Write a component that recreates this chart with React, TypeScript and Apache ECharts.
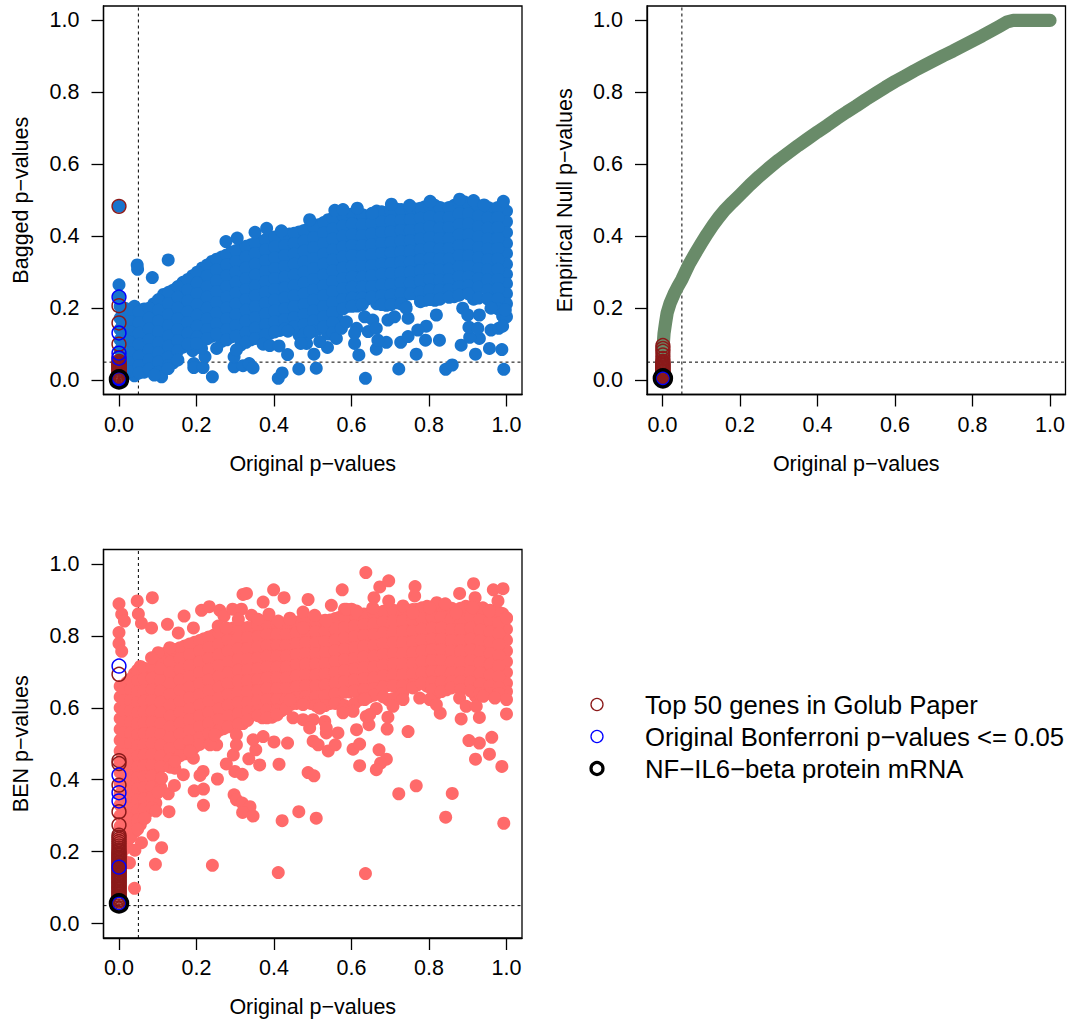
import React, { useEffect, useRef } from "react";
import * as echarts from "echarts";

const tickValues = [0, 0.2, 0.4, 0.6, 0.8, 1.0];
const xTitle = "Original p\u2212values";
const yTitles = ["Bagged p\u2212values", "Empirical Null p\u2212values", "BEN p\u2212values"];
const legendLabels = ["Top 50 genes in Golub Paper", "Original Bonferroni p\u2212values <= 0.05", "NF\u2212IL6\u2212beta protein mRNA"];
const cutoff = [0.05];

// Dense cloud, read column by column: [x, y values], in thousandths
const baggedCloud: [number, number[]][] = [
  [3, [205, 172, 141, 112, 83, 55, 28]],
  [15, [200, 186, 157, 126, 98, 70, 42, 18]],
  [40, [205, 178, 150, 118, 92, 60, 35, 12]],
  [65, [198, 165, 138, 108, 78, 50, 22]],
  [90, [212, 182, 152, 121, 95, 64, 40]],
  [115, [238, 205, 176, 146, 115, 88, 58, 30]],
  [140, [250, 222, 190, 160, 132, 100, 70, 48]],
  [165, [272, 240, 212, 180, 150, 120, 92]],
  [190, [290, 262, 230, 200, 170, 140, 110, 82]],
  [215, [312, 280, 250, 221, 190, 160, 130, 108]],
  [240, [330, 300, 272, 240, 210, 182, 150, 122]],
  [265, [342, 315, 285, 255, 225, 195, 165, 135, 108]],
  [290, [356, 326, 298, 268, 238, 208, 178, 148, 120]],
  [315, [366, 336, 306, 278, 248, 218, 188, 158, 125, 98]],
  [340, [376, 348, 318, 288, 258, 230, 200, 170, 140, 112]],
  [365, [386, 356, 328, 298, 268, 238, 210, 180, 150, 122]],
  [390, [396, 368, 338, 308, 280, 250, 220, 190, 160, 130]],
  [415, [402, 372, 344, 314, 284, 254, 226, 196, 166, 138]],
  [440, [406, 378, 348, 320, 290, 260, 232, 202, 172, 148]],
  [465, [412, 382, 354, 324, 296, 266, 236, 206, 178, 150, 125]],
  [490, [422, 392, 364, 334, 304, 276, 246, 216, 188, 158, 130]],
  [515, [432, 402, 374, 344, 316, 286, 256, 228, 198, 170, 142]],
  [540, [446, 416, 388, 358, 328, 300, 270, 240, 212, 184, 155, 128]],
  [565, [456, 426, 398, 368, 340, 310, 280, 252, 222, 195, 168]],
  [590, [460, 432, 402, 372, 344, 314, 284, 256, 226, 205]],
  [615, [466, 436, 408, 378, 350, 320, 290, 262, 232, 206]],
  [640, [456, 430, 400, 370, 342, 312, 284, 254, 225]],
  [665, [470, 442, 412, 384, 354, 324, 296, 266, 238, 212]],
  [690, [466, 438, 408, 378, 350, 320, 290, 262, 232, 208]],
  [715, [476, 446, 418, 388, 358, 330, 300, 272, 242, 215]],
  [740, [472, 444, 414, 386, 356, 326, 298, 268, 240, 205]],
  [765, [476, 448, 418, 390, 360, 332, 302, 274, 240]],
  [790, [482, 452, 424, 394, 366, 336, 306, 278, 248, 222]],
  [815, [486, 456, 428, 398, 370, 340, 310, 282, 252, 222]],
  [840, [476, 448, 418, 390, 360, 332, 302, 274, 248]],
  [865, [486, 458, 428, 400, 370, 340, 312, 284, 256, 232]],
  [890, [496, 466, 438, 408, 380, 350, 320, 292, 264]],
  [915, [486, 458, 430, 400, 370, 342, 312, 284, 258, 225]],
  [940, [482, 452, 424, 394, 366, 338, 308, 280]],
  [965, [476, 448, 420, 390, 362, 332, 304, 278, 250, 222]],
  [990, [486, 456, 428, 398, 370, 340, 312, 284, 258, 230, 200, 178]],
  [1000, [470, 440, 410, 380, 352, 322, 294, 268, 240, 212]],
];

const baggedCloudMid: [number, number[]][] = [
  [9, [190, 160, 130, 100, 70, 42]],
  [28, [192, 163, 134, 105, 76, 48, 24]],
  [52, [190, 160, 130, 100, 66, 40, 20]],
  [78, [200, 172, 142, 112, 84, 56, 30]],
  [102, [224, 194, 164, 134, 104, 76, 50, 22]],
  [128, [244, 212, 182, 152, 122, 94, 64, 40]],
  [152, [260, 230, 200, 170, 140, 110, 82, 56]],
  [178, [280, 250, 220, 190, 160, 130, 100]],
  [202, [300, 270, 240, 210, 180, 150, 120, 95]],
  [228, [320, 290, 260, 230, 200, 170, 140, 115]],
  [252, [336, 306, 276, 246, 216, 186, 156, 128]],
  [278, [348, 320, 290, 260, 230, 200, 170, 140, 112]],
  [302, [360, 330, 300, 272, 242, 212, 182, 152, 122]],
  [328, [372, 342, 312, 282, 252, 224, 194, 164, 132, 105]],
  [352, [380, 352, 322, 292, 262, 234, 204, 174, 144, 116]],
  [378, [390, 362, 332, 302, 274, 244, 214, 184, 154, 126]],
  [402, [398, 370, 340, 310, 282, 252, 222, 192, 162, 134]],
  [428, [404, 374, 346, 316, 286, 256, 228, 198, 168, 142]],
  [452, [408, 380, 350, 322, 292, 262, 234, 204, 174, 148]],
  [478, [416, 386, 358, 328, 300, 270, 240, 210, 182, 154, 128]],
  [502, [426, 396, 368, 338, 310, 280, 250, 222, 192, 164, 136]],
  [528, [438, 408, 380, 350, 322, 292, 262, 234, 204, 176, 148]],
  [552, [450, 420, 392, 362, 334, 304, 274, 246, 216, 188, 160, 132]],
  [578, [458, 428, 400, 370, 342, 312, 282, 254, 224, 198]],
  [602, [462, 434, 404, 374, 346, 316, 286, 258, 228, 205]],
  [628, [460, 432, 402, 374, 344, 316, 286, 258, 228, 210]],
  [652, [462, 436, 406, 376, 348, 318, 290, 260, 230]],
  [678, [468, 440, 410, 380, 352, 322, 294, 264, 234, 210]],
  [702, [470, 442, 412, 382, 354, 324, 296, 266, 236, 210]],
  [728, [474, 444, 416, 386, 356, 328, 298, 270, 240, 212]],
  [752, [474, 446, 416, 388, 358, 328, 300, 270, 240]],
  [778, [478, 450, 420, 392, 362, 334, 304, 276, 244, 218]],
  [802, [484, 454, 426, 396, 368, 338, 308, 280, 250, 224]],
  [828, [480, 452, 422, 394, 364, 336, 306, 278, 250, 225]],
  [852, [480, 452, 424, 394, 366, 336, 308, 280, 252, 230]],
  [878, [490, 462, 432, 404, 374, 346, 316, 288, 260, 236]],
  [902, [490, 462, 434, 404, 376, 346, 316, 288, 262, 240]],
  [928, [484, 456, 426, 398, 368, 340, 310, 282, 258, 228]],
  [952, [480, 450, 422, 392, 364, 334, 306, 278, 250, 225]],
  [978, [480, 452, 424, 394, 366, 336, 308, 280, 254, 226, 198]],
];

const baggedLoose: number[][] = [
  [0.047, 0.32], [0.048, 0.308], [0.127, 0.334], [0.086, 0.285], [0, 0.265], [0, 0.232], [0, 0.483],
  [0.241, 0.009], [0.11, 0.009], [0.091, 0.014], [0.127, 0.032], [0.193, 0.046], [0.193, 0.035], [0.217, 0.035],
  [0.222, 0.065], [0.213, 0.088], [0.2, 0.102], [0.252, 0.088], [0.297, 0.037], [0.32, 0.04], [0.336, 0.046],
  [0.346, 0.034], [0.297, 0.065], [0.303, 0.084], [0.372, 0.1], [0.389, 0.096], [0.413, 0.095], [0.435, 0.071],
  [0.411, 0.005], [0.421, 0.02], [0.464, 0.031], [0.509, 0.033], [0.503, 0.072], [0.538, 0.091], [0.636, 0.005],
  [0.619, 0.07], [0.608, 0.102], [0.664, 0.086], [0.69, 0.105], [0.722, 0.031], [0.727, 0.105], [0.746, 0.121],
  [0.767, 0.072], [0.791, 0.111], [0.827, 0.111], [0.843, 0.03], [0.86, 0.042], [0.883, 0.097], [0.92, 0.072],
  [0.956, 0.088], [0.988, 0.085], [0.993, 0.03], [0.93, 0.116], [0.905, 0.119], [0.903, 0.147], [0.926, 0.144],
  [0.96, 0.139], [0.98, 0.144], [0.793, 0.15], [0.819, 0.181], [0.771, 0.139], [0.746, 0.172], [0.741, 0.2],
  [0.694, 0.167], [0.711, 0.176], [0.634, 0.176], [0.655, 0.167], [0.613, 0.144], [0.608, 0.13], [0.643, 0.135],
  [0.664, 0.144], [0.668, 0.111], [0.561, 0.116], [0.574, 0.144], [0.587, 0.162], [0.518, 0.107], [0.484, 0.102],
  [0.469, 0.102], [0.436, 0.136], [0.492, 0.135], [0.887, 0.2], [0.9, 0.181], [0.93, 0.181], [0.96, 0.2],
  [1, 0.176], [0.997, 0.195], [0.99, 0.15],
  [0.276, 0.385], [0.305, 0.395], [0.351, 0.411], [0.381, 0.422], [0.419, 0.415], [0.492, 0.446], [0.557, 0.472],
  [0.578, 0.474], [0.615, 0.478], [0.654, 0.464], [0.703, 0.489], [0.75, 0.486], [0.803, 0.497], [0.879, 0.503],
  [0.915, 0.499], [0.992, 0.497], [0.942, 0.487],
];

const nullCurve: number[][] = [
  [0, 0], [0.001, 0.06], [0.002, 0.1], [0.004, 0.13], [0.008, 0.16], [0.012, 0.187], [0.02, 0.215], [0.03, 0.24],
  [0.04, 0.261], [0.05, 0.28], [0.06, 0.303], [0.07, 0.325], [0.085, 0.353], [0.1, 0.38], [0.115, 0.406], [0.13, 0.43],
  [0.145, 0.452], [0.16, 0.472], [0.18, 0.494], [0.2, 0.515], [0.225, 0.542], [0.25, 0.567], [0.275, 0.59], [0.3, 0.612],
  [0.325, 0.632], [0.35, 0.652], [0.375, 0.671], [0.4, 0.69], [0.425, 0.708], [0.45, 0.727], [0.475, 0.745], [0.5, 0.762],
  [0.525, 0.78], [0.55, 0.797], [0.575, 0.814], [0.6, 0.83], [0.625, 0.845], [0.65, 0.86], [0.675, 0.874], [0.7, 0.888],
  [0.725, 0.902], [0.75, 0.915], [0.775, 0.929], [0.8, 0.943], [0.825, 0.957], [0.85, 0.972], [0.87, 0.984], [0.89, 0.996],
  [0.905, 1], [0.95, 1], [1, 1],
];

const benCloud: [number, number[]][] = [
  [3, [660, 630, 600, 570, 540, 510, 480, 450, 420, 390, 360, 330, 300, 270, 240, 210, 180, 150]],
  [20, [670, 640, 610, 580, 550, 520, 490, 460, 430, 400, 370, 340, 310, 280, 250, 225]],
  [40, [695, 665, 635, 605, 575, 545, 515, 485, 455, 425, 395, 365, 335, 305, 280, 255]],
  [55, [715, 685, 655, 625, 595, 565, 535, 505, 475, 445, 415, 385, 355, 325, 295, 275]],
  [75, [705, 672, 640, 610, 580, 550, 520, 490, 460, 430, 400, 370, 340, 312]],
  [95, [722, 692, 660, 630, 600, 570, 540, 510, 480, 450, 420, 390, 360, 335]],
  [120, [752, 722, 692, 662, 632, 602, 572, 542, 512, 482, 452, 440]],
  [145, [762, 732, 702, 672, 642, 612, 582, 552, 522, 492, 462]],
  [170, [772, 742, 712, 682, 652, 622, 592, 562, 532, 502, 472]],
  [195, [782, 752, 722, 692, 662, 632, 602, 572, 542, 512, 490]],
  [220, [792, 762, 732, 702, 672, 642, 612, 582, 552, 525]],
  [245, [802, 772, 742, 712, 682, 652, 622, 592, 562, 532]],
  [270, [812, 782, 752, 722, 692, 662, 632, 602, 572, 542]],
  [295, [822, 792, 762, 732, 702, 672, 642, 612, 582, 552]],
  [320, [822, 796, 766, 736, 706, 676, 646, 616, 586, 556]],
  [345, [824, 794, 764, 734, 704, 674, 644, 614, 590]],
  [370, [832, 802, 772, 742, 712, 682, 652, 622, 592, 572]],
  [395, [834, 804, 774, 744, 714, 684, 654, 624, 594, 574]],
  [420, [832, 802, 772, 742, 712, 682, 652, 622, 592]],
  [445, [834, 804, 774, 744, 714, 684, 654, 624, 610]],
  [470, [842, 812, 782, 752, 722, 692, 662, 632, 620]],
  [495, [840, 810, 780, 750, 720, 690, 660, 630, 612]],
  [520, [842, 812, 782, 752, 722, 692, 662, 632, 602]],
  [545, [844, 814, 784, 754, 724, 694, 664, 634, 612]],
  [570, [852, 822, 792, 762, 732, 702, 672, 642, 612]],
  [595, [854, 824, 794, 764, 734, 704, 674, 644, 602]],
  [620, [860, 830, 800, 770, 740, 710, 680, 650, 622]],
  [645, [862, 832, 802, 772, 742, 712, 682, 652, 630]],
  [670, [864, 834, 804, 774, 744, 714, 684, 654, 640]],
  [695, [872, 842, 812, 782, 752, 722, 692, 662, 622]],
  [720, [870, 840, 810, 780, 750, 720, 690, 660, 630]],
  [745, [872, 842, 812, 782, 752, 722, 692, 662]],
  [770, [874, 844, 814, 784, 754, 724, 694, 664]],
  [795, [882, 852, 822, 792, 762, 732, 702, 672, 660]],
  [820, [880, 850, 820, 790, 760, 730, 700, 670, 640]],
  [845, [882, 852, 822, 792, 762, 732, 702, 672, 650]],
  [870, [872, 842, 812, 782, 752, 722, 692, 672]],
  [895, [882, 852, 822, 792, 762, 732, 702, 672, 660]],
  [920, [880, 850, 820, 790, 760, 730, 700, 670, 632]],
  [945, [872, 842, 812, 782, 752, 722, 692, 662, 640]],
  [970, [870, 840, 810, 780, 750, 720, 690, 660, 640]],
  [990, [862, 832, 802, 772, 742, 712, 682, 652, 642]],
  [1000, [848, 818, 788, 758, 728, 698, 668, 645]],
];

const benCloudMid: [number, number[]][] = [
  [12, [650, 620, 590, 560, 530, 500, 470, 440, 410, 380, 350, 320, 290, 262, 232, 205, 175]],
  [30, [680, 650, 620, 590, 560, 530, 500, 470, 440, 410, 380, 350, 320, 292, 265, 240]],
  [48, [705, 675, 645, 615, 585, 555, 525, 495, 465, 435, 405, 375, 345, 315, 288, 262]],
  [65, [710, 680, 648, 618, 588, 558, 528, 498, 468, 438, 408, 378, 348, 318, 292]],
  [85, [712, 682, 650, 620, 590, 560, 530, 500, 470, 440, 410, 380, 350, 322]],
  [108, [738, 708, 676, 646, 616, 586, 556, 526, 496, 466, 436, 405, 378]],
  [132, [757, 727, 697, 667, 637, 607, 577, 547, 517, 487, 457, 435]],
  [158, [767, 737, 707, 677, 647, 617, 587, 557, 527, 497, 467]],
  [182, [777, 747, 717, 687, 657, 627, 597, 567, 537, 507, 480]],
  [208, [787, 757, 727, 697, 667, 637, 607, 577, 547, 517, 498]],
  [232, [797, 767, 737, 707, 677, 647, 617, 587, 557, 528]],
  [258, [807, 777, 747, 717, 687, 657, 627, 597, 567, 537]],
  [282, [817, 787, 757, 727, 697, 667, 637, 607, 577, 547]],
  [308, [822, 794, 764, 734, 704, 674, 644, 614, 584, 554]],
  [332, [823, 795, 765, 735, 705, 675, 645, 615, 588, 565]],
  [358, [828, 798, 768, 738, 708, 678, 648, 618, 590, 578]],
  [382, [833, 803, 773, 743, 713, 683, 653, 623, 593, 572]],
  [408, [833, 803, 773, 743, 713, 683, 653, 623, 593, 580]],
  [432, [833, 803, 773, 743, 713, 683, 653, 623, 598]],
  [458, [838, 808, 778, 748, 718, 688, 658, 628, 612]],
  [482, [841, 811, 781, 751, 721, 691, 661, 631, 615]],
  [508, [841, 811, 781, 751, 721, 691, 661, 631, 606]],
  [532, [843, 813, 783, 753, 723, 693, 663, 633, 606]],
  [558, [848, 818, 788, 758, 728, 698, 668, 638, 612]],
  [582, [853, 823, 793, 763, 733, 703, 673, 643, 606]],
  [608, [857, 827, 797, 767, 737, 707, 677, 647, 612]],
  [632, [861, 831, 801, 771, 741, 711, 681, 651, 626]],
  [658, [863, 833, 803, 773, 743, 713, 683, 653, 635]],
  [682, [868, 838, 808, 778, 748, 718, 688, 658, 630]],
  [708, [871, 841, 811, 781, 751, 721, 691, 661, 626]],
  [732, [871, 841, 811, 781, 751, 721, 691, 661, 640]],
  [758, [873, 843, 813, 783, 753, 723, 693, 663, 655]],
  [782, [878, 848, 818, 788, 758, 728, 698, 668]],
  [808, [881, 851, 821, 791, 761, 731, 701, 671, 650]],
  [832, [881, 851, 821, 791, 761, 731, 701, 671, 645]],
  [858, [877, 847, 817, 787, 757, 727, 697, 672, 655]],
  [882, [877, 847, 817, 787, 757, 727, 697, 672, 650]],
  [908, [881, 851, 821, 791, 761, 731, 701, 671, 646]],
  [932, [876, 846, 816, 786, 756, 726, 696, 666, 640]],
  [958, [871, 841, 811, 781, 751, 721, 691, 661, 640]],
  [980, [866, 836, 806, 776, 746, 716, 686, 656, 640]],
];

const benLoose: number[][] = [
  [0, 0.889], [0.047, 0.897], [0.086, 0.906], [0.007, 0.86], [0.014, 0.841], [0.05, 0.861], [0.058, 0.835], [0.084, 0.822],
  [0, 0.809], [0, 0.779], [0.007, 0.757], [0.125, 0.832], [0.168, 0.855], [0.213, 0.871], [0.233, 0.881], [0.26, 0.871],
  [0.271, 0.855], [0.293, 0.874], [0.316, 0.874], [0.32, 0.915], [0.329, 0.918], [0.342, 0.857], [0.372, 0.894],
  [0.387, 0.86], [0.399, 0.928], [0.426, 0.906], [0.441, 0.849], [0.475, 0.866], [0.488, 0.901], [0.505, 0.857],
  [0.548, 0.885], [0.576, 0.928], [0.637, 0.976], [0.658, 0.906], [0.673, 0.936], [0.696, 0.953], [0.696, 0.897],
  [0.764, 0.937], [0.763, 0.911], [0.733, 0.883], [0.82, 0.892], [0.842, 0.889], [0.879, 0.918], [0.915, 0.945],
  [0.919, 0.906], [0.966, 0.928], [0.991, 0.931], [0.978, 0.897], [0.939, 0.878], [0.582, 0.874], [0.6, 0.874],
  [0.04, 0.098], [0.094, 0.165], [0.027, 0.169], [0.11, 0.211], [0.088, 0.246], [0.058, 0.225], [0.041, 0.204],
  [0.241, 0.162], [0.411, 0.142], [0.636, 0.139], [0.129, 0.311], [0.095, 0.313], [0.067, 0.293], [0.127, 0.361],
  [0.101, 0.365], [0.143, 0.384], [0.194, 0.369], [0.218, 0.374], [0.218, 0.329], [0.254, 0.402], [0.217, 0.423],
  [0.209, 0.412], [0.166, 0.414], [0.144, 0.432], [0.297, 0.358], [0.303, 0.344], [0.318, 0.335], [0.338, 0.325],
  [0.319, 0.309], [0.346, 0.299], [0.299, 0.423], [0.318, 0.415], [0.277, 0.444], [0.295, 0.469], [0.335, 0.458],
  [0.363, 0.441], [0.413, 0.443], [0.353, 0.483], [0.346, 0.511], [0.372, 0.52], [0.4, 0.505], [0.435, 0.502],
  [0.421, 0.286], [0.464, 0.311], [0.509, 0.293], [0.488, 0.42], [0.503, 0.411], [0.501, 0.507], [0.514, 0.497],
  [0.54, 0.48], [0.558, 0.497], [0.565, 0.53], [0.535, 0.53], [0.604, 0.485], [0.621, 0.499], [0.613, 0.539],
  [0.621, 0.439], [0.671, 0.483], [0.692, 0.541], [0.645, 0.553], [0.69, 0.457], [0.675, 0.446], [0.664, 0.428],
  [0.746, 0.534], [0.722, 0.361], [0.767, 0.383], [0.86, 0.362], [0.843, 0.296], [0.993, 0.279], [0.988, 0.437],
  [0.92, 0.457], [0.956, 0.471], [0.962, 0.518], [0.93, 0.502], [0.903, 0.509], [0.883, 0.569], [0.93, 0.573],
  [1, 0.583], [0.829, 0.585], [0.694, 0.574], [0.664, 0.598], [0.638, 0.576],
  [0.441, 0.622], [0.475, 0.609], [0.518, 0.599], [0.578, 0.595], [0.604, 0.59], [0.634, 0.623], [0.707, 0.604],
  [0.733, 0.623], [0.776, 0.627], [0.802, 0.623], [0.819, 0.609], [0.879, 0.627], [0.896, 0.604], [0.922, 0.604],
  [0.94, 0.632], [0.97, 0.627], [1, 0.623], [0.449, 0.572], [0.475, 0.567], [0.501, 0.567], [0.531, 0.562], [0.578, 0.586],
  [0.647, 0.581], [0.535, 0.544], [0.492, 0.544], [0.252, 0.497], [0.235, 0.497], [0.303, 0.525], [0.303, 0.497],
  [0.247, 0.525], [0.192, 0.46], [0.183, 0.479], [0.144, 0.451], [0.11, 0.404],
  [0.101, 0.753], [0.084, 0.739], [0.131, 0.767], [0.153, 0.808], [0.192, 0.822], [0.256, 0.827], [0.277, 0.822],
  [0.308, 0.846], [0.359, 0.846], [0.411, 0.841], [0.441, 0.846], [0.475, 0.822], [0.535, 0.841], [0.587, 0.874],
  [0.613, 0.869], [0.655, 0.878], [0.758, 0.864], [0.802, 0.878], [0.87, 0.864], [0.913, 0.878], [0.956, 0.869], [1, 0.85],
];

// Ring markers sitting on the x = 0 column: y values
const baggedGolubY = [0.483, 0.207, 0.159, 0.1, 0.062, 0.052, 0.048, 0.045, 0.042, 0.039, 0.036, 0.033, 0.03, 0.027, 0.024, 0.021, 0.018, 0.015, 0.012, 0.009, 0.006, 0.003];
const baggedBonfY = [0.231, 0.131, 0.075, 0.061, 0.007, 0.004, 0.002];
const baggedMarkY = [0.002];

const nullGolubY = [0.096, 0.088, 0.08, 0.07, 0.06, 0.052, 0.048, 0.045, 0.042, 0.039, 0.036, 0.033, 0.03, 0.027, 0.024, 0.021, 0.018, 0.015, 0.012, 0.009, 0.006];
const nullBonfY = [0.007, 0.005, 0.003];
const nullMarkY = [0.005];

const benGolubY = [
  0.693, 0.453, 0.445, 0.385, 0.311, 0.274, 0.246, 0.24, 0.234, 0.228, 0.222, 0.216, 0.21, 0.204, 0.2, 0.196, 0.192, 0.189, 0.185, 0.182, 0.178, 0.175,
  0.171, 0.168, 0.164, 0.161, 0.157, 0.154, 0.15, 0.147, 0.143, 0.14, 0.136, 0.133, 0.129, 0.126, 0.122, 0.119, 0.115, 0.112, 0.108, 0.105, 0.101,
  0.098, 0.094, 0.091, 0.087, 0.084, 0.08, 0.077, 0.073, 0.07, 0.066, 0.063, 0.059,
];
const benBonfY = [0.716, 0.413, 0.364, 0.341, 0.157, 0.058, 0.054];
const benMarkY = [0.056];

const flatten = (cols: [number, number[]][]) => cols.flatMap(([x, ys]) => ys.map((y) => [x / 1000, y / 1000]));
const onColumn = (x: number, ys: number[]) => ys.map((y) => [x, y]);

const FONT = "Liberation Sans";
const AXIS_MIN = -0.04;
const AXIS_MAX = 1.04;
const frames = [
  { left: 103.5, top: 6, width: 418.5, height: 388.5 },
  { left: 647, top: 6, width: 418.5, height: 388.5 },
  { left: 103.5, top: 549.5, width: 418.5, height: 388.5 },
];

function buildOption() {
  const grid = frames.map((f) => ({ ...f, show: true, borderColor: "#000", borderWidth: 1.3, backgroundColor: "transparent", containLabel: false, outerBoundsMode: "none" }));
  const base = (i: number) => ({
    gridIndex: i,
    type: "value",
    min: AXIS_MIN,
    max: AXIS_MAX,
    z: 10,
    splitLine: { show: false },
    axisLine: { show: true, onZero: false, lineStyle: { color: "#000", width: 1.3 } },
    axisTick: { show: true, length: 12, customValues: tickValues, lineStyle: { color: "#000", width: 1.3 } },
    nameLocation: "middle",
    nameMoveOverlap: false,
    nameTextStyle: { fontFamily: FONT, fontSize: 21.5, color: "#000" },
  });
  const labels = (margin: number) => ({
    customValues: tickValues, formatter: (v: number) => v.toFixed(1), fontFamily: FONT, fontSize: 21.5, color: "#000", margin, hideOverlap: false,
  });
  const xAxis = frames.map((_, i) => ({ ...base(i), name: xTitle, nameGap: 58, axisLabel: labels(19) }));
  const yAxis = frames.map((_, i) => ({ ...base(i), name: yTitles[i], nameGap: 71.5, axisLabel: labels(24) }));

  const dashed = (i: number) => [
    {
      type: "line", xAxisIndex: i, yAxisIndex: i, silent: true, symbol: "none", z: 1,
      data: [[cutoff[0], AXIS_MIN], [cutoff[0], AXIS_MAX]],
      lineStyle: { color: "#000", width: 1, type: [3, 3] },
    },
    {
      type: "line", xAxisIndex: i, yAxisIndex: i, silent: true, symbol: "none", z: 1,
      data: [[AXIS_MIN, cutoff[0]], [AXIS_MAX, cutoff[0]]],
      lineStyle: { color: "#000", width: 1, type: [3, 3] },
    },
  ];
  const dots = (i: number, data: number[][], color: string, size = 13, z = 2) => ({
    type: "scatter", xAxisIndex: i, yAxisIndex: i, silent: true, z, symbolSize: size, data,
    itemStyle: { color, opacity: 1 },
  });
  const rings = (i: number, data: number[][], color: string, size: number, width: number, z: number) => ({
    type: "scatter", xAxisIndex: i, yAxisIndex: i, silent: true, z, symbolSize: size, data,
    itemStyle: { color: "transparent", borderColor: color, borderWidth: width, opacity: 1 },
  });
  const marks = (i: number, x: number, golub: number[], bonf: number[], mark: number[]) => [
    rings(i, onColumn(x, golub), "#8B1A1A", 13.8, 1.5, 3),
    rings(i, onColumn(x, bonf), "#0000FF", 13.8, 1.5, 4),
    rings(i, onColumn(x, mark), "#000", 17, 3.5, 5),
  ];

  const series = [
    ...dashed(0),
    dots(0, flatten(baggedCloud), "#1874CD"),
    dots(0, flatten(baggedCloudMid), "#1874CD"),
    dots(0, baggedLoose, "#1874CD"),
    ...marks(0, 0, baggedGolubY, baggedBonfY, baggedMarkY),
    ...dashed(1),
    {
      type: "line", xAxisIndex: 1, yAxisIndex: 1, silent: true, symbol: "none", z: 2, data: nullCurve,
      lineStyle: { color: "#698B69", width: 13.2, cap: "round", join: "round" },
    },
    ...marks(1, 0.001, nullGolubY, nullBonfY, nullMarkY),
    dots(1, onColumn(0.001, nullMarkY), "#8B1A1A", 9, 6),
    ...dashed(2),
    dots(2, flatten(benCloud), "#FF6A6A"),
    dots(2, flatten(benCloudMid), "#FF6A6A"),
    dots(2, benLoose, "#FF6A6A"),
    ...marks(2, 0, benGolubY, benBonfY, benMarkY),
  ];

  const legendRows = [
    { y: 704.5, color: "#8B1A1A", width: 1.3 },
    { y: 736.5, color: "#0000FF", width: 1.3 },
    { y: 768.5, color: "#000", width: 3.2 },
  ];
  const graphic = legendRows.flatMap((row, i) => [
    { type: "circle", shape: { cx: 597, cy: row.y, r: 6 }, style: { fill: "none", stroke: row.color, lineWidth: row.width } },
    { type: "text", x: 645, y: row.y, style: { text: legendLabels[i], font: `25.7px "${FONT}"`, fill: "#000", textVerticalAlign: "middle" } },
  ]);

  return { animation: false, backgroundColor: "#fff", grid, xAxis, yAxis, series, graphic };
}

export default function App() {
  const ref = useRef<HTMLDivElement>(null);
  useEffect(() => {
    const chart = echarts.init(ref.current!, undefined, { renderer: "svg" });
    chart.setOption(buildOption() as any);
    return () => chart.dispose();
  }, []);
  return <div ref={ref} style={{ position: "absolute", left: 0, top: 0, width: 1072, height: 1023 }} />;
}
